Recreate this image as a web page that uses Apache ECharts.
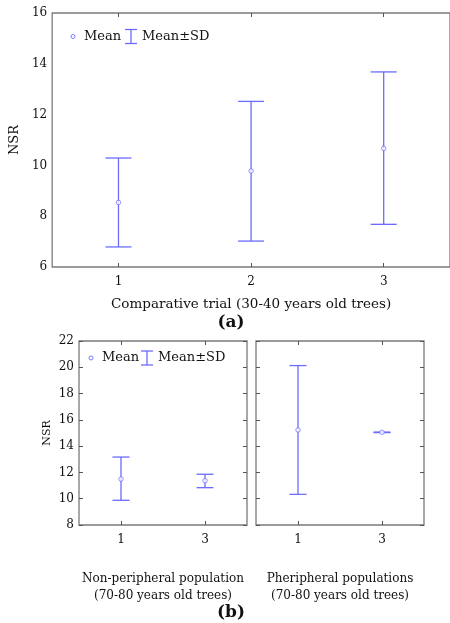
<!DOCTYPE html>
<html>
<head>
<meta charset="utf-8">
<script src="https://cdn.jsdelivr.net/npm/echarts@6/dist/echarts.min.js"></script>
<style>
  html, body { margin: 0; padding: 0; background: #fff; }
  #chart { width: 450px; height: 623px; }
</style>
</head>
<body>
<div id="chart"></div>
<script>
// panel (a): comparative trial
var catsA = ['1', '2', '3'];
var meanA = [8.54, 9.78, 10.67];
var lowA  = [6.79, 7.02, 7.68];
var highA = [10.29, 12.52, 13.68];

// panel (b) left: non-peripheral population
var catsB = ['1', '3'];
var meanB1 = [11.50, 11.37];
var lowB1  = [9.88, 10.84];
var highB1 = [13.17, 11.86];

// panel (b) right: peripheral populations
var meanB2 = [15.23, 15.05];
var lowB2  = [10.33, 15.03];
var highB2 = [20.13, 15.07];

var blue = '#6b6bff';
var frame = '#7a7a7a';
var ink = '#111';
var serif = '"DejaVu Serif", "Liberation Serif", serif';

function barRows(low, high) {
    var rows = [];
    for (var i = 0; i < low.length; i++) rows.push([i, low[i], high[i]]);
    return rows;
}
function meanRows(mean) {
    var rows = [];
    for (var i = 0; i < mean.length; i++) rows.push([i, mean[i]]);
    return rows;
}

function errorBar(xi, yi, rows, cap) {
    return {
        type: 'custom',
        xAxisIndex: xi,
        yAxisIndex: yi,
        data: rows,
        z: 2,
        renderItem: function (params, api) {
            var lo = api.coord([api.value(0), api.value(1)]);
            var hi = api.coord([api.value(0), api.value(2)]);
            var st = { stroke: blue, lineWidth: 1.3 };
            return {
                type: 'group',
                children: [
                    { type: 'line', shape: { x1: lo[0], y1: lo[1], x2: hi[0], y2: hi[1] }, style: st },
                    { type: 'line', shape: { x1: hi[0] - cap, y1: hi[1], x2: hi[0] + cap, y2: hi[1] }, style: st },
                    { type: 'line', shape: { x1: lo[0] - cap, y1: lo[1], x2: lo[0] + cap, y2: lo[1] }, style: st }
                ]
            };
        }
    };
}

function meanSeries(xi, yi, rows) {
    return {
        type: 'scatter',
        xAxisIndex: xi,
        yAxisIndex: yi,
        data: rows,
        symbol: 'circle',
        symbolSize: 4.5,
        itemStyle: { color: '#fff', borderColor: blue, borderWidth: 0.9 },
        z: 3,
        silent: true
    };
}

function xBottom(grid, cats, name, gap, size) {
    return {
        type: 'category', gridIndex: grid, data: cats, position: 'bottom',
        axisLine: { show: false },
        axisTick: { show: true, inside: true, length: 4, alignWithLabel: true, lineStyle: { color: '#555' } },
        axisLabel: { fontFamily: serif, fontSize: 12, color: ink, margin: 9 },
        splitLine: { show: false },
        name: name, nameLocation: 'middle', nameGap: gap,
        nameTextStyle: { fontFamily: serif, fontSize: size, color: ink, lineHeight: 17, verticalAlign: 'top' }
    };
}
function xTop(grid, cats) {
    return {
        type: 'category', gridIndex: grid, data: cats, position: 'top',
        axisLine: { show: false },
        axisTick: { show: true, inside: true, length: 4, alignWithLabel: true, lineStyle: { color: '#555' } },
        axisLabel: { show: false },
        splitLine: { show: false }
    };
}
function yAxis(grid, min, max, interval, pos, labels, ticks, name, gap, nameSize) {
    return {
        type: 'value', gridIndex: grid, min: min, max: max, interval: interval, position: pos,
        axisLine: { show: false },
        axisTick: { show: ticks, inside: true, length: 4, lineStyle: { color: '#555' } },
        axisLabel: { show: labels, fontFamily: serif, fontSize: 12, color: ink, margin: 5 },
        splitLine: { show: false },
        name: name, nameLocation: 'middle', nameGap: gap, nameRotate: 90,
        nameTextStyle: { fontFamily: serif, fontSize: nameSize, color: ink }
    };
}

function legend(x, y, iconOff, textOff) {
    var st = { stroke: blue, lineWidth: 1.3 };
    var txt = { fontFamily: serif, fontSize: 13, fill: ink, verticalAlign: 'middle' };
    return [
        { type: 'circle', shape: { cx: x, cy: y, r: 2 }, style: { fill: '#fff', stroke: blue, lineWidth: 0.9 } },
        { type: 'text', x: x + 11, y: y, style: Object.assign({ text: 'Mean' }, txt) },
        { type: 'line', shape: { x1: x + iconOff - 6, y1: y - 7, x2: x + iconOff + 6, y2: y - 7 }, style: st },
        { type: 'line', shape: { x1: x + iconOff, y1: y - 7, x2: x + iconOff, y2: y + 7 }, style: st },
        { type: 'line', shape: { x1: x + iconOff - 6, y1: y + 7, x2: x + iconOff + 6, y2: y + 7 }, style: st },
        { type: 'text', x: x + textOff, y: y, style: Object.assign({ text: 'Mean\u00b1SD' }, txt) }
    ];
}

var chart = echarts.init(document.getElementById('chart'), null, { renderer: 'canvas' });

var option = {
    animation: false,
    backgroundColor: '#fff',
    grid: [
        { left: 48, top: 13, width: 405, height: 254, show: true, borderColor: frame, borderWidth: 1.3, backgroundColor: 'transparent' },
        { left: 79, top: 341, width: 168, height: 184, show: true, borderColor: frame, borderWidth: 1.3, backgroundColor: 'transparent' },
        { left: 256, top: 341, width: 168, height: 184, show: true, borderColor: frame, borderWidth: 1.3, backgroundColor: 'transparent' }
    ],
    xAxis: [
        xBottom(0, catsA, 'Comparative trial (30-40 years old trees)', 29, 13.5),
        xTop(0, catsA),
        xBottom(1, catsB, 'Non-peripheral population\n(70-80 years old trees)', 45, 12),
        xTop(1, catsB),
        xBottom(2, catsB, 'Pheripheral populations\n(70-80 years old trees)', 45, 12),
        xTop(2, catsB)
    ],
    yAxis: [
        yAxis(0, 6, 16, 2, 'left', true, false, 'NSR', 27, 13),
        yAxis(1, 8, 22, 2, 'left', true, true, 'NSR', 26, 11),
        yAxis(1, 8, 22, 2, 'right', false, true, '', 0, 11),
        yAxis(2, 8, 22, 2, 'left', false, true, '', 0, 11),
        yAxis(2, 8, 22, 2, 'right', false, true, '', 0, 11)
    ],
    series: [
        errorBar(0, 0, barRows(lowA, highA), 13),
        meanSeries(0, 0, meanRows(meanA)),
        errorBar(2, 1, barRows(lowB1, highB1), 8.5),
        meanSeries(2, 1, meanRows(meanB1)),
        errorBar(4, 3, barRows(lowB2, highB2), 8.5),
        meanSeries(4, 3, meanRows(meanB2))
    ],
    graphic: legend(73, 36.5, 58, 69).concat(legend(91, 358, 56, 67)).concat([
        { type: 'text', x: 231, y: 323, style: { text: '(a)', fontFamily: serif, fontSize: 17, fontWeight: 'bold', fill: ink, align: 'center', verticalAlign: 'middle' } },
        { type: 'text', x: 231, y: 613, style: { text: '(b)', fontFamily: serif, fontSize: 17, fontWeight: 'bold', fill: ink, align: 'center', verticalAlign: 'middle' } }
    ])
};

chart.setOption(option);
window.onresize = chart.resize;
</script>
</body>
</html>
